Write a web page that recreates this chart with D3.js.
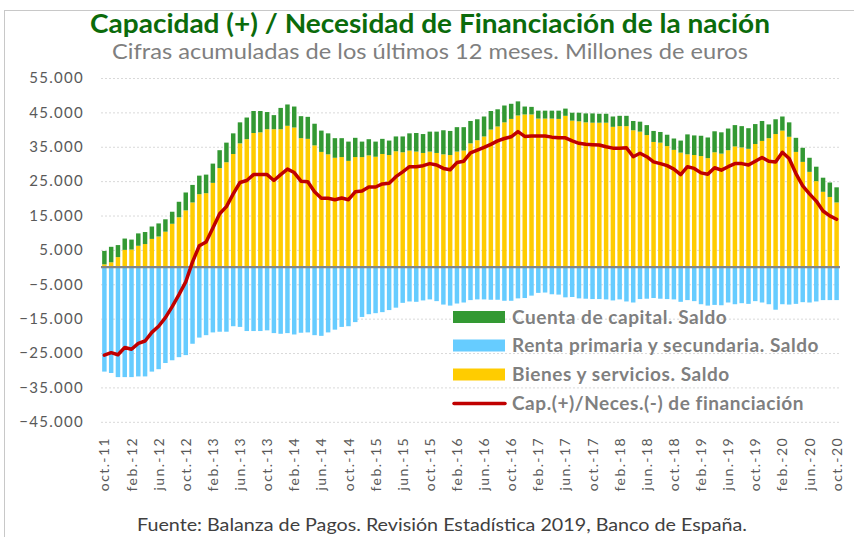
<!DOCTYPE html>
<html><head><meta charset="utf-8">
<script src="https://cdn.jsdelivr.net/npm/d3@7"></script>
<style>body{margin:0;background:#fff}svg{display:block}</style>
</head><body>
<svg id="c" width="854" height="537"></svg>
<script>
// ---- DATA ----
const monthAbbr = ["ene.","feb.","mar.","abr.","may.","jun.","jul.","ago.","sep.","oct.","nov.","dic."];
const categories = [];
for (let i = 0; i < 109; i++) { const m = (9 + i) % 12, yr = 11 + Math.floor((9 + i) / 12); categories.push(monthAbbr[m] + "-" + yr); }
const tickLabels = categories.filter((d, i) => i % 4 === 0);
const yTicks = [55000,45000,35000,25000,15000,5000,-5000,-15000,-25000,-35000,-45000];

const bienes = [800,1400,2900,5000,5100,6200,6700,8200,8900,10300,
12600,14500,16500,18800,21200,21500,24500,28800,30500,32900,
36000,37200,39000,39200,40100,40100,40100,41100,40600,37500,
37300,35400,33500,32800,31800,32000,30900,32000,32000,32500,
32100,32900,32600,33700,33400,33900,33600,33200,33600,33200,
32800,32600,33600,33900,36000,36900,38000,40000,40900,42100,
43100,44100,44400,44400,43200,43200,43200,43100,44000,42600,
42400,42100,42000,42000,42000,40800,41000,41000,39800,39400,
38400,36400,36200,35200,34100,33300,32800,32600,32300,31700,
33400,33000,34000,35100,34800,34400,35800,36700,37500,38700,
39700,37900,33500,30600,27700,25000,21900,20400,18800];

const capital = [3900,4500,3500,3300,2900,3600,3500,3600,3800,3600,
3500,4500,5200,5100,5400,5400,5600,5200,5700,6000,
6100,6300,6400,6200,5000,4100,6200,6200,6100,6400,
6400,6300,6200,6100,5700,5500,5600,5600,4500,4700,
4400,4400,4200,4300,4600,5000,5400,5500,5800,6200,
7000,7000,7100,6800,6500,6100,5800,5400,5000,4900,
4400,4100,2300,2200,2300,2300,2300,2400,2100,2300,
2500,2600,2700,2600,2600,3000,3000,3000,2700,2900,
2900,3200,3100,3300,3300,3500,5800,5700,5900,6000,
6100,6200,6300,6200,6200,6000,5800,5800,4000,4300,
4100,4200,4100,4100,4100,4200,4100,4200,4400];

const renta = [-30400,-30800,-32000,-32000,-32000,-31800,-31800,-30400,-29700,-27900,
-27100,-26200,-25600,-22300,-20500,-19800,-19000,-18800,-18800,-17200,
-17400,-18600,-18600,-18600,-18400,-19200,-19400,-19200,-19600,-19100,
-19000,-19800,-20000,-19000,-18200,-17400,-17200,-16000,-14500,-13700,
-13400,-13100,-12500,-11800,-10400,-10000,-10100,-9700,-9400,-9900,
-10900,-11200,-10600,-10300,-9600,-9400,-9400,-9500,-9500,-9800,
-9800,-9100,-9000,-8300,-7500,-7400,-7900,-8000,-8800,-8700,
-9100,-9200,-9300,-9300,-9400,-9700,-9400,-10000,-10300,-9300,
-9200,-9000,-9200,-9300,-9400,-10100,-9600,-9900,-10800,-11200,
-11000,-11100,-10300,-10800,-10500,-10700,-9900,-10300,-10800,-12400,
-10800,-10900,-10700,-10200,-10300,-10000,-9600,-9600,-9600];

const capacidad = [-25600,-24900,-25500,-23400,-23900,-22200,-21500,-19000,-17200,-14700,
-11500,-8000,-4300,1500,6200,7300,11400,15500,17600,21300,
24600,25200,26900,26900,26900,25200,26900,28500,27500,25000,
24800,21900,20000,20000,19600,20100,19600,21900,22100,23300,
23300,24200,24400,26300,27700,29200,29200,29500,30100,29700,
28700,28300,30400,30800,33200,34000,34800,35700,36700,37400,
37900,39400,38000,38100,38100,38100,37800,37600,37600,36700,
36000,35700,35600,35500,35000,34600,34600,34700,32100,33100,
32100,30600,30100,29500,28500,26900,29200,28700,27400,27000,
28900,28200,29200,30100,30100,29700,30800,31900,30800,30600,
33400,31600,27200,23600,21300,19200,16300,14900,13900];

const legendItems = [
  {label: "Cuenta de capital. Saldo", color: "#339933", type: "rect"},
  {label: "Renta primaria y secundaria. Saldo", color: "#66ccff", type: "rect"},
  {label: "Bienes y servicios. Saldo", color: "#ffcc00", type: "rect"},
  {label: "Cap.(+)/Neces.(-) de financiación", color: "#c00000", type: "line"}
];

// ---- CHART ----
(function () {
const svg = d3.select("#c");
const FONT = "Lato, 'Open Sans', sans-serif";
const pLeft = 101, pRight = 840, pTop = 78, pBottom = 421.8;

svg.append("rect").attr("x", 4.5).attr("y", 10.5).attr("width", 900).attr("height", 600)
  .attr("fill", "none").attr("stroke", "#c8c8c8").attr("stroke-width", 1);

const x = d3.scaleBand().domain(categories).range([pLeft, pRight]).paddingInner(0.34).paddingOuter(0.17);
const y = d3.scaleLinear().domain([-45000, 55000]).range([pBottom, pTop]);

// gridlines
svg.append("g").attr("transform", `translate(${pLeft},0)`)
  .call(d3.axisLeft(y).tickValues(yTicks).tickSize(-(pRight - pLeft)).tickFormat(""))
  .call(g => g.select(".domain").remove())
  .call(g => g.selectAll("line").attr("stroke", "#d9d9d9").attr("stroke-dasharray", "2,2"));

// y labels
const fmt = v => d3.format(",")(v).replace(/,/g, ".");
svg.append("g").attr("transform", `translate(${pLeft},0)`)
  .call(d3.axisLeft(y).tickValues(yTicks).tickSize(0).tickPadding(17).tickFormat(fmt))
  .call(g => g.select(".domain").remove())
  .call(g => g.selectAll("text").attr("fill", "#595959").style("font-family", FONT)
    .style("font-size", "15px").style("letter-spacing", "1.3px"));

// bars
const bw = x.bandwidth();
const gb = svg.append("g");
gb.selectAll("rect.r").data(renta).join("rect").attr("class", "r")
  .attr("x", (d, i) => x(categories[i])).attr("width", bw)
  .attr("y", d => y(Math.max(0, d))).attr("height", d => Math.abs(y(d) - y(0)))
  .attr("fill", "#66ccff");
gb.selectAll("rect.b").data(bienes).join("rect").attr("class", "b")
  .attr("x", (d, i) => x(categories[i])).attr("width", bw)
  .attr("y", d => y(d)).attr("height", d => y(0) - y(d))
  .attr("fill", "#ffcc00");
gb.selectAll("rect.k").data(capital).join("rect").attr("class", "k")
  .attr("x", (d, i) => x(categories[i])).attr("width", bw)
  .attr("y", (d, i) => y(bienes[i] + d)).attr("height", (d, i) => y(bienes[i]) - y(bienes[i] + d))
  .attr("fill", "#339933");

// zero line
svg.append("line").attr("x1", pLeft).attr("x2", pRight).attr("y1", y(0)).attr("y2", y(0))
  .attr("stroke", "#868686").attr("stroke-width", 2.2);

// line
const line = d3.line().x((d, i) => x(categories[i]) + bw / 2).y(d => y(d));
svg.append("path").datum(capacidad).attr("d", line).attr("fill", "none")
  .attr("stroke", "#c00000").attr("stroke-width", 3.5).attr("stroke-linejoin", "round").attr("stroke-linecap", "round");

// x axis
svg.append("g").attr("transform", "translate(0,437)")
  .call(d3.axisBottom(x).tickValues(tickLabels).tickSize(0))
  .call(g => g.select(".domain").remove())
  .call(g => g.selectAll("text").attr("transform", "rotate(-90)").attr("x", 0).attr("y", 0)
    .attr("dy", "0.36em").attr("text-anchor", "end").attr("fill", "#595959")
    .style("font-family", FONT).style("font-size", "14px").style("letter-spacing", "1.4px"));

// legend
const lg = svg.append("g");
const rowY = [317, 345.5, 374.5, 403.5];
legendItems.forEach((it, i) => {
  if (it.type === "rect") {
    lg.append("rect").attr("x", 453).attr("y", rowY[i] - 6).attr("width", 52).attr("height", 12).attr("fill", it.color);
  } else {
    lg.append("line").attr("x1", 454).attr("x2", 505).attr("y1", rowY[i]).attr("y2", rowY[i])
      .attr("stroke", it.color).attr("stroke-width", 3.5).attr("stroke-linecap", "round");
  }
  lg.append("text").attr("x", 512).attr("y", rowY[i]).attr("dy", "0.36em").text(it.label)
    .attr("fill", "#7f7f7f").style("font-family", FONT).style("font-weight", "bold")
    .style("font-size", "19px").style("letter-spacing", "0.55px");
});

// titles
function fit(t, w) { const n = t.node(); const cw = n.getComputedTextLength(); if (Math.abs(cw - w) > 2) t.attr("textLength", w).attr("lengthAdjust", "spacingAndGlyphs"); }
const t1 = svg.append("text").attr("x", 430).attr("y", 33).attr("text-anchor", "middle")
  .text("Capacidad (+) / Necesidad de Financiación de la nación")
  .attr("fill", "#0b6b0b").style("font-family", FONT).style("font-weight", "bold").style("font-size", "26px");
fit(t1, 680);
const t2 = svg.append("text").attr("x", 430).attr("y", 59).attr("text-anchor", "middle")
  .text("Cifras acumuladas de los últimos 12 meses. Millones de euros")
  .attr("fill", "#7f7f7f").style("font-family", FONT).style("font-size", "21px");
fit(t2, 636);
const t3 = svg.append("text").attr("x", 442).attr("y", 531).attr("text-anchor", "middle")
  .text("Fuente: Balanza de Pagos. Revisión Estadística 2019, Banco de España.")
  .attr("fill", "#404040").style("font-family", FONT).style("font-size", "17px");
fit(t3, 610);
})();
</script>
</body></html>
